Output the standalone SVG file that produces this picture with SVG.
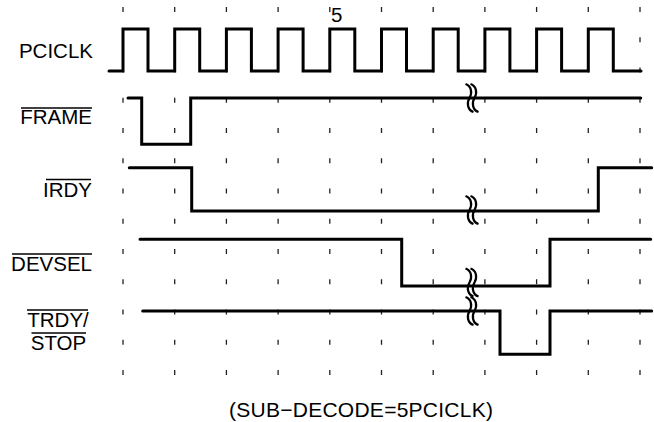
<svg xmlns="http://www.w3.org/2000/svg" width="654" height="422" viewBox="0 0 654 422">
<style>
.grid{stroke:#222;stroke-width:1.3;stroke-dasharray:5 25.25;fill:none}
.sig{stroke:#000;stroke-width:3;fill:none;stroke-linecap:round;stroke-linejoin:miter}
.brk{stroke:#000;stroke-width:2.2;fill:none}
.lbl{font-family:"Liberation Sans",Arial,Helvetica,sans-serif;font-size:20.5px;fill:#000}
.cap{font-family:"Liberation Sans",Arial,Helvetica,sans-serif;font-size:21px;fill:#000}
.ov{stroke:#000;stroke-width:1.4}
</style>
<defs>
<path id="bm" d="M-4,-14 C2,-12 3,-5 0,0 C-3,5 -2,12 4,14"/>
<g id="brk"><use href="#bm" x="-2.5"/><use href="#bm" x="2.5"/></g>
</defs>
<rect width="654" height="422" fill="#fff"/>
<g id="grid">
<line class="grid" x1="123" y1="7" x2="123" y2="376"/>
<line class="grid" x1="174.7" y1="7" x2="174.7" y2="376"/>
<line class="grid" x1="226.4" y1="7" x2="226.4" y2="376"/>
<line class="grid" x1="278.1" y1="7" x2="278.1" y2="376"/>
<line class="grid" x1="329.8" y1="7" x2="329.8" y2="376"/>
<line class="grid" x1="381.5" y1="7" x2="381.5" y2="376"/>
<line class="grid" x1="433.2" y1="7" x2="433.2" y2="376"/>
<line class="grid" x1="484.9" y1="7" x2="484.9" y2="376"/>
<line class="grid" x1="536.6" y1="7" x2="536.6" y2="376"/>
<line class="grid" x1="588.3" y1="7" x2="588.3" y2="376"/>
<line class="grid" x1="640" y1="7" x2="640" y2="376"/>
</g>
<g id="pciclk">
<text class="lbl" x="93" y="58" text-anchor="end">PCICLK</text>
<path class="sig" d="M109,71 H123 V29 H148 V71 H174.7 V29 H199.7 V71 H226.4 V29 H251.4 V71 H278.1 V29 H303.1 V71 H329.8 V29 H354.8 V71 H381.5 V29 H406.5 V71 H433.2 V29 H458.2 V71 H484.9 V29 H509.9 V71 H536.6 V29 H561.6 V71 H588.3 V29 H613.3 V71 H641"/>
<text class="lbl" x="331" y="22">5</text>
</g>
<g id="frame">
<text class="lbl" x="92" y="124" text-anchor="end">FRAME</text>
<line class="ov" x1="21" y1="108" x2="92" y2="108"/>
<path class="sig" d="M128,98 H141.7 V144.3 H190.7 V98 H640.7"/>
</g>
<g id="irdy">
<text class="lbl" x="92" y="196.5" text-anchor="end">IRDY</text>
<line class="ov" x1="46" y1="179.5" x2="91" y2="179.5"/>
<path class="sig" d="M129.3,167.7 H191.7 V211 H598.3 V167.7 H651.7"/>
</g>
<g id="devsel">
<text class="lbl" x="92" y="270.5" text-anchor="end">DEVSEL</text>
<line class="ov" x1="12" y1="254" x2="92" y2="254"/>
<path class="sig" d="M140,239.3 H401.7 V286 H550 V239.3 H650.7"/>
</g>
<g id="trdy-stop">
<text class="lbl" x="58" y="326.5" text-anchor="middle">TRDY/</text>
<line class="ov" x1="27" y1="310" x2="88" y2="310"/>
<text class="lbl" x="58.5" y="350" text-anchor="middle">STOP</text>
<line class="ov" x1="31.5" y1="333" x2="86" y2="333"/>
<path class="sig" d="M142.7,311 H500 V354.3 H550 V311 H651.7"/>
</g>
<g id="breaks">
<use href="#brk" class="brk" x="472" y="98"/>
<use href="#brk" class="brk" x="472" y="210"/>
<use href="#brk" class="brk" x="472" y="282.5"/>
<use href="#brk" class="brk" x="472" y="311"/>
</g>
<text class="cap" x="361" y="416.5" text-anchor="middle" textLength="264" lengthAdjust="spacing">(SUB−DECODE=5PCICLK)</text>
</svg>
